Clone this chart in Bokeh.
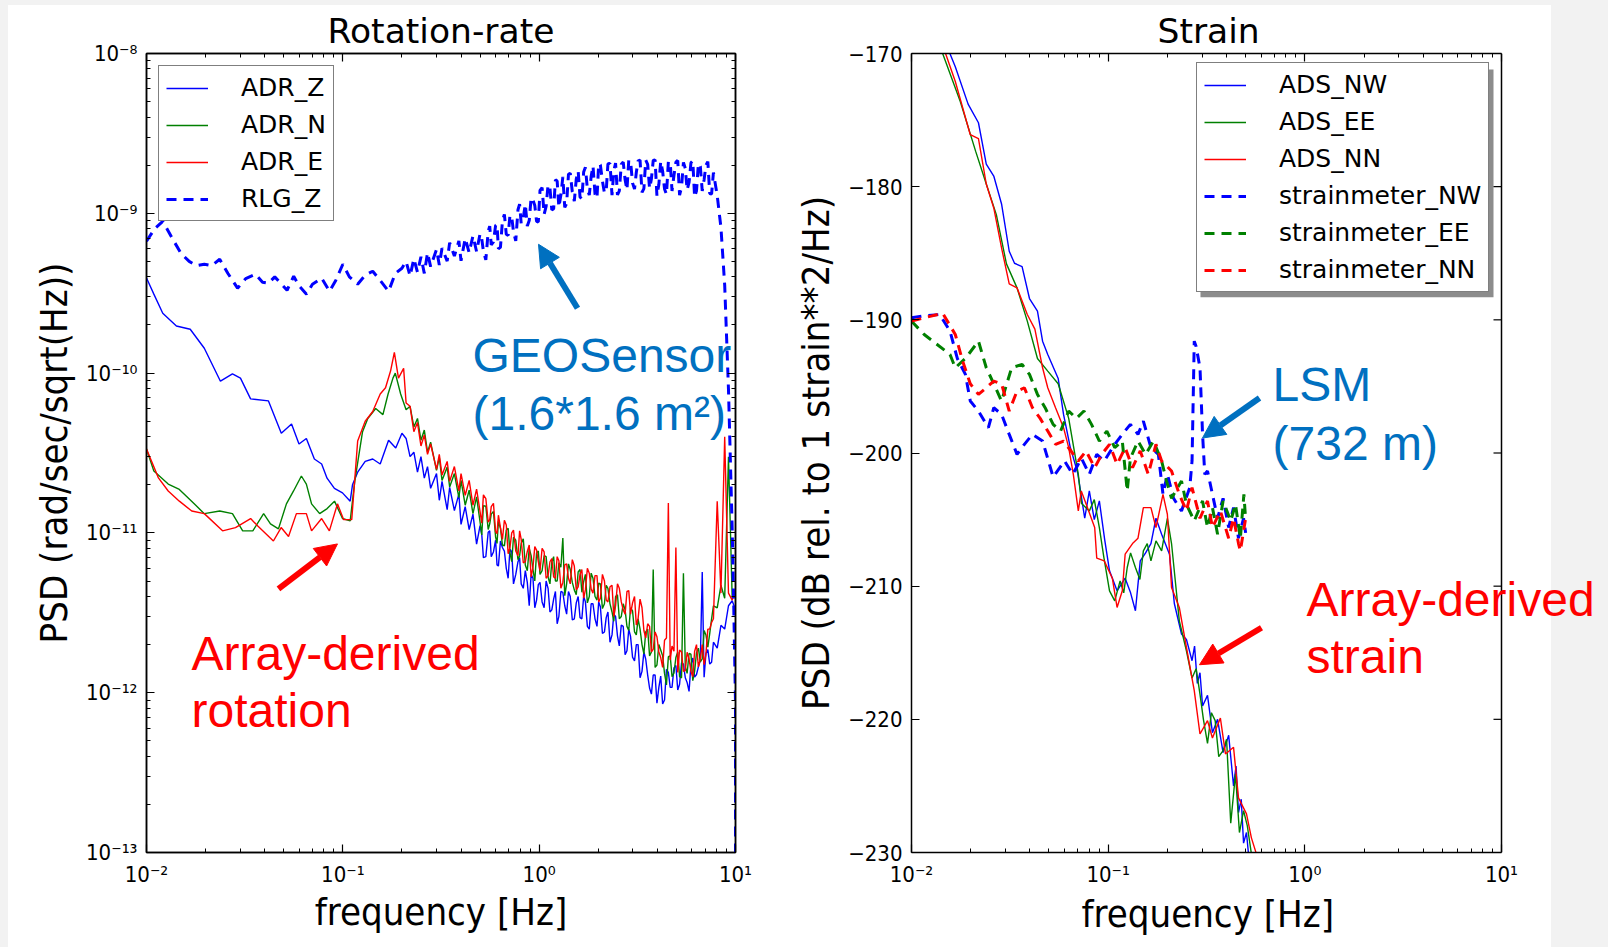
from bokeh.plotting import figure
from bokeh.models import (Range1d, LogAxis, FixedTicker, CustomJSTickFormatter,
                          Label, Arrow, NormalHead, Spacer, BoxAnnotation, Span, Title)
from bokeh.layouts import row, column
from bokeh.embed import file_html
from bokeh.resources import INLINE

# =====================================================================
# Left panel: rotation-rate PSD, values given in 1e-12 rad/sec/sqrt(Hz)
# =====================================================================
PICO = 1e-12

F_HI = [0.21, 0.22, 0.23, 0.24, 0.25, 0.26, 0.27, 0.28, 0.30, 0.31,
        0.32, 0.34, 0.35, 0.37, 0.39, 0.40, 0.42, 0.44, 0.46, 0.48,
        0.50, 0.52, 0.55, 0.57, 0.60, 0.62, 0.65, 0.68, 0.71, 0.74,
        0.78, 0.81, 0.85, 0.89, 0.93, 0.97, 1.01, 1.06, 1.11, 1.16,
        1.21, 1.26, 1.32, 1.38, 1.44, 1.51, 1.58, 1.65, 1.72, 1.80,
        1.88, 1.97, 2.05, 2.15, 2.24, 2.35, 2.45, 2.56, 2.68, 2.80,
        2.92, 3.06, 3.19, 3.34, 3.49, 3.65, 3.81, 3.98, 4.16, 4.35,
        4.55, 4.75, 4.97, 5.19, 5.43, 5.67, 5.93, 6.19, 6.47, 6.77,
        7.07, 7.39, 7.72, 8.07, 8.43, 8.81, 9.21, 9.62, 10.0]
F_MID = [0.51, 0.535, 0.56, 0.585, 0.61, 0.635, 0.665, 0.695, 0.725, 0.76,
         0.795, 0.83, 0.87, 0.91, 0.95, 0.99, 1.035, 1.085, 1.135, 1.185,
         1.235, 1.29, 1.35, 1.41, 1.475, 1.545, 1.615, 1.685, 1.76, 1.84,
         1.925, 2.01, 2.10, 2.195, 2.295, 2.40, 2.505, 2.62, 2.74, 2.86,
         2.99, 3.125, 3.265, 3.415, 3.57, 3.73, 3.895, 4.07, 4.255, 4.45,
         4.65, 4.86, 5.08, 5.31, 5.55, 5.80, 6.06, 6.33, 6.62, 6.92,
         7.23, 7.555]

ADR_Z_F_LO = [0.0100, 0.0109, 0.0121, 0.0142, 0.0167, 0.0197, 0.0238, 0.0274, 0.0301, 0.0339,
              0.0418, 0.0486, 0.0548, 0.0598, 0.0652, 0.0716, 0.0780, 0.0831, 0.0906, 0.0996,
              0.109, 0.112, 0.119, 0.130, 0.142, 0.155, 0.171, 0.186, 0.200]
ADR_Z_LO = [394, 312, 237, 197, 188, 143, 89, 99, 93, 69,
            67, 42, 48, 36, 39, 29, 27, 22, 19, 17.8,
            15.8, 20, 24, 28, 29, 27, 38, 34, 42]
ADR_Z_HI = [39, 30, 32, 24, 30, 22, 26, 19, 23.5, 16,
            21, 14, 19.3, 13.8, 17.5, 11.3, 14.6, 10.5, 13.1, 8.5,
            11.1, 7.0, 10.1, 7.1, 9.0, 6.2, 8.1, 6.0, 7.9, 4.8,
            6.6, 4.8, 5.8, 3.5, 5.2, 3.8, 4.9, 3.4, 4.5, 3.3,
            4.3, 3.0, 4.25, 3.1, 4.0, 2.9, 4.0, 2.9, 3.7, 2.5,
            3.6, 2.6, 3.45, 2.4, 3.2, 2.3, 3.0, 1.96, 2.6, 1.83,
            2.25, 1.58, 2.0, 1.36, 1.62, 1.07, 1.29, 0.86, 1.27, 0.9,
            1.34, 1.08, 1.48, 1.13, 1.51, 1.16, 1.5, 1.25, 1.45, 5.7,
            1.76, 1.51, 2.07, 1.9, 2.64, 2.5, 3.5, 3.76, 3.3]
ADR_Z_MID = [9.8, 7.1, 10.3, 7.6, 6.3, 8.9, 7.7, 5.2, 7.6, 5.5,
             7.0, 4.5, 4.9, 5.5, 3.4, 4.75, 3.7, 5.0, 3.2, 3.85,
             2.7, 4.3, 3.5, 4.3, 2.85, 3.65, 2.95, 4.0, 2.6, 3.6,
             2.9, 3.7, 2.35, 2.95, 2.07, 3.1, 2.27, 2.65, 1.73, 2.5,
             1.67, 2.0, 1.24, 1.8, 1.29, 0.98, 1.29, 1.08, 0.85, 1.4,
             1.08, 1.43, 1.04, 1.54, 1.24, 1.02, 1.65, 1.3, 1.59, 1.25,
             1.86, 1.55]

ADR_N_F_LO = [0.0100, 0.0109, 0.0129, 0.0147, 0.0175, 0.0197, 0.0236, 0.0274, 0.0309, 0.0348,
              0.0395, 0.0428, 0.0470, 0.0516, 0.0561, 0.0615, 0.0652, 0.0693, 0.0762, 0.0832,
              0.0907, 0.0996, 0.109, 0.115, 0.126, 0.134, 0.147, 0.160, 0.170, 0.180,
              0.185, 0.197]
ADR_N_LO = [33.5, 24.4, 20.2, 18.7, 15.2, 13.2, 13.7, 13.2, 10.3, 10.3,
            13.2, 11.4, 10.6, 15.2, 18.3, 22.7, 20.2, 15.2, 13.2, 14.2,
            15.8, 12.3, 11.9, 21, 43, 52, 60, 55, 74, 93,
            100, 74]
ADR_N_HI = [59, 62, 46, 52, 38, 44, 32, 37, 24.6, 29.7,
            21.3, 25.8, 19.4, 23.5, 16.6, 21.3, 14.9, 18.5, 13.2, 16.8,
            11.7, 14.8, 10.5, 13.1, 9.4, 11.8, 8.4, 10.4, 7.5, 9.4,
            6.8, 8.6, 6.3, 8.0, 5.9, 7.5, 5.5, 7.2, 5.3, 6.6,
            5.0, 6.5, 9.3, 4.8, 5.9, 4.4, 5.7, 4.25, 5.5, 4.0,
            5.2, 3.8, 4.8, 3.6, 4.5, 3.2, 4.0, 2.9, 3.6, 2.6,
            3.4, 2.4, 2.9, 2.0, 2.4, 1.7, 5.9, 1.49, 1.85, 1.32,
            1.68, 1.26, 1.66, 1.26, 5.6, 1.32, 1.74, 1.36, 1.9, 1.63,
            2.3, 2.34, 3.5, 3.4, 4.7, 3.9, 30, 3.9, 4.4]
ADR_N_MID = [9.7, 14.7, 11.4, 13.6, 8.6, 10.7, 8.3, 10.7, 6.6, 9.0,
             7.2, 9.2, 5.8, 7.2, 5.0, 7.7, 5.8, 7.1, 4.8, 7.1,
             5.0, 6.1, 4.05, 6.4, 4.9, 4.1, 5.9, 4.95, 3.65, 5.6,
             4.0, 4.85, 3.36, 4.7, 3.6, 2.8, 4.1, 3.0, 3.3, 2.45,
             3.25, 2.3, 2.5, 1.75, 2.5, 1.8, 1.44, 2.0, 1.7, 1.12,
             1.7, 1.33, 1.8, 1.24, 1.45, 1.76, 1.19, 1.78, 1.56, 2.45,
             1.93, 2.9]

ADR_E_F_LO = [0.0100, 0.0115, 0.0129, 0.0147, 0.0170, 0.0197, 0.0244, 0.0284, 0.0339, 0.0370,
              0.0443, 0.0485, 0.0529, 0.0580, 0.0652, 0.0693, 0.0780, 0.0854, 0.0939, 0.101,
              0.111, 0.119, 0.130, 0.142, 0.155, 0.165, 0.175, 0.183, 0.192, 0.204]
ADR_E_LO = [33.5, 22.1, 18.3, 15.8, 13.7, 13.2, 10.3, 10.8, 12.3, 11.0,
            8.9, 10.8, 9.5, 13.2, 13.2, 10.3, 12.3, 10.3, 15.2, 12.1,
            12.1, 37.6, 50, 57.5, 74, 81, 103, 135, 93, 107]
ADR_E_HI = [65, 62, 43, 49, 35, 41, 31, 36, 25, 31,
            23, 28, 21, 26, 18.3, 23.5, 17.2, 21.3, 14.9, 18.8,
            13.6, 17.3, 11.7, 14.6, 10.2, 12.9, 9.1, 11.2, 8.1, 10.4,
            7.2, 9.1, 6.6, 8.4, 6.1, 7.8, 5.8, 7.6, 5.4, 6.9,
            5.2, 6.7, 4.9, 6.4, 4.8, 6.2, 4.6, 5.9, 4.4, 5.6,
            4.2, 5.4, 3.9, 5.0, 3.7, 4.7, 3.5, 4.5, 3.3, 4.3,
            3.1, 4.0, 2.9, 3.4, 2.2, 2.6, 1.87, 2.24, 1.66, 2.13,
            15.4, 1.96, 8.1, 1.85, 1.36, 1.79, 1.36, 1.81, 1.45, 2.0,
            1.75, 2.5, 2.9, 15.8, 4.2, 40, 4.2, 3.8, 4.4]
ADR_E_MID = [11.5, 16.4, 12.1, 15.3, 9.9, 10.8, 12.0, 7.4, 10.0, 7.7,
             10.3, 6.5, 7.65, 5.3, 8.2, 6.6, 8.0, 5.2, 6.6, 5.3,
             7.1, 4.5, 6.3, 5.2, 6.8, 4.4, 5.5, 3.9, 6.0, 4.45,
             5.4, 3.7, 5.5, 3.8, 4.6, 3.0, 4.8, 3.7, 3.1, 4.35,
             3.65, 2.65, 3.85, 2.45, 2.7, 1.8, 2.4, 1.8, 1.44, 2.2,
             1.6, 1.82, 1.34, 1.8, 1.38, 1.63, 1.26, 2.0, 1.63, 1.5,
             2.5, 2.75]

RLG_Z_F_LO = [0.0100, 0.0110, 0.0121, 0.0135, 0.0150, 0.0165, 0.0180, 0.0197, 0.0215, 0.0236,
              0.0260, 0.0291, 0.0320, 0.0359, 0.0390, 0.0418, 0.0450, 0.0487, 0.0520, 0.0562,
              0.0600, 0.0653, 0.0700, 0.0780, 0.0855, 0.0920, 0.100, 0.108, 0.119, 0.130,
              0.142, 0.155, 0.171, 0.185, 0.200]
RLG_Z_LO = [668, 800, 891, 700, 560, 500, 470, 480, 470, 516,
            420, 340, 390, 416, 370, 365, 400, 360, 330, 404,
            350, 312, 360, 393, 325, 380, 480, 400, 360, 410,
            434, 380, 325, 420, 453]
RLG_Z_HI = [500, 405, 520, 428, 534, 421, 566, 464, 594, 475,
            605, 502, 655, 540, 671, 504, 697, 567, 722, 576,
            745, 578, 770, 634, 840, 600, 896, 739, 974, 765,
            1053, 862, 1142, 901, 1210, 890, 1390, 985, 1510, 1050,
            1620, 1090, 1690, 1150, 1780, 1190, 1840, 1230, 1940, 1300,
            1980, 1240, 2010, 1340, 2040, 1300, 2060, 1380, 2090, 1400,
            2120, 1420, 2130, 1350, 2150, 1430, 2140, 1280, 2120, 1420,
            2100, 1380, 2090, 1300, 2080, 1400, 2070, 1260, 2050, 1380,
            2000, 1330, 1800, 1290, 815, 355, 79, 10.6]
RLG_Z_MID = [692, 511, 831, 662, 851, 612, 984, 727, 947, 672,
             1142, 940, 832, 1253, 1120, 882, 1446, 1104, 1436, 1067,
             1593, 1302, 1088, 1752, 1364, 1638, 1264, 1814, 1419, 1703,
             1318, 2046, 1595, 1380, 2047, 1850, 1302, 2029, 1620, 2150,
             1546, 1804, 2150, 1429, 2025, 1641, 2160, 1513, 1835, 1314,
             2093, 1729, 2140, 1456, 1911, 1561, 2130, 1382, 1964, 1624,
             2105, 1320]
RLG_Z_F_TAIL = [9.80, 10.0, 10.0]
RLG_Z_TAIL = [3.4, 0.87, 0.05]

# =====================================================================
# Right panel: strain PSD in dB rel. to 1 strain**2/Hz
# =====================================================================
ADS_NW_F = [0.0150, 0.0167, 0.0194, 0.0219, 0.0240, 0.0262, 0.0287, 0.0314, 0.0334, 0.0365,
            0.0398, 0.0437, 0.0464, 0.0493, 0.0557, 0.0593, 0.0640, 0.0700, 0.0760, 0.0802,
            0.0850, 0.0902, 0.0960, 0.1016, 0.111, 0.122, 0.130, 0.1376, 0.1456, 0.155,
            0.165, 0.175, 0.187, 0.205, 0.217, 0.236, 0.250, 0.267, 0.275, 0.284,
            0.293, 0.302, 0.320, 0.339, 0.360, 0.384, 0.410, 0.434, 0.447, 0.460,
            0.475, 0.488, 0.505, 0.520]
ADS_NW = [-169.3, -171.0, -173.8, -175.2, -178.3, -179.2, -181.3, -184.85, -185.75, -186.0,
          -188.4, -189.35, -191.6, -192.6, -194.4, -197.1, -199.5, -201.5, -204.9, -202.85,
          -205.0, -203.6, -206.5, -208.85, -210.35, -209.4, -210.5, -211.85, -208.1, -207.5,
          -206.8, -204.9, -206.1, -207.6, -211.3, -213.6, -214.0, -215.6, -214.5, -217.3,
          -216.5, -219.0, -218.2, -221.0, -220.0, -222.5, -221.2, -225.0, -223.5, -227.0,
          -226.0, -229.3, -228.5, -230.5]

ADS_EE_F = [0.0144, 0.0177, 0.0212, 0.0240, 0.0270, 0.0304, 0.0344, 0.0388, 0.0437, 0.0493,
            0.0557, 0.0630, 0.0705, 0.0732, 0.0802, 0.0850, 0.0902, 0.0950, 0.1016, 0.108,
            0.115, 0.120, 0.125, 0.130, 0.1376, 0.145, 0.151, 0.158, 0.165, 0.175,
            0.187, 0.200, 0.210, 0.230, 0.250, 0.267, 0.280, 0.293, 0.305, 0.320,
            0.335, 0.350, 0.365, 0.384, 0.400, 0.420, 0.444, 0.465, 0.488, 0.510,
            0.535]
ADS_EE = [-170.0, -173.6, -177.35, -179.8, -182.1, -185.8, -187.6, -190.1, -192.9, -193.85,
          -194.8, -197.4, -201.6, -203.8, -204.35, -203.5, -205.6, -207.8, -210.35, -211.1,
          -209.6, -210.5, -208.6, -207.5, -208.6, -209.5, -207.35, -206.8, -208.1, -206.6,
          -207.35, -204.9, -206.8, -212.6, -214.85, -216.9, -216.2, -218.1, -220.0, -221.8,
          -219.5, -220.1, -222.8, -222.35, -221.5, -227.8, -224.1, -228.5, -226.85, -228.0,
          -230.1]

ADS_NN_F = [0.0149, 0.0167, 0.0199, 0.0219, 0.0240, 0.0262, 0.0287, 0.0314, 0.0344, 0.0388,
            0.0424, 0.0464, 0.0493, 0.0540, 0.0593, 0.0630, 0.0665, 0.0705, 0.0730, 0.0780,
            0.0854, 0.0875, 0.0955, 0.105, 0.111, 0.118, 0.122, 0.133, 0.1418, 0.151,
            0.165, 0.175, 0.190, 0.200, 0.210, 0.230, 0.250, 0.274, 0.293, 0.320,
            0.339, 0.372, 0.395, 0.434, 0.460, 0.505, 0.535, 0.567]
ADS_NN = [-170.0, -172.1, -176.1, -176.4, -179.8, -181.6, -184.6, -187.3, -187.6, -189.6,
          -190.7, -193.6, -195.1, -196.6, -198.1, -199.6, -201.6, -204.35, -202.85, -204.0,
          -205.6, -207.9, -208.1, -209.4, -211.6, -210.35, -207.6, -206.8, -206.4, -204.1,
          -204.1, -205.6, -203.1, -204.6, -210.1, -211.6, -214.6, -217.85, -221.1, -220.1,
          -221.4, -219.9, -222.6, -222.1, -225.9, -227.1, -228.9, -230.1]

SM_NW_F = [0.0100, 0.0116, 0.0139, 0.0157, 0.0171, 0.0188, 0.0199, 0.0219, 0.0246, 0.0262,
           0.0287, 0.0314, 0.0344, 0.0375, 0.0412, 0.0464, 0.0525, 0.0600, 0.0660, 0.0732,
           0.0802, 0.0875, 0.0955, 0.108, 0.118, 0.1297, 0.1418, 0.151, 0.165, 0.180,
           0.190, 0.200, 0.215, 0.236, 0.260, 0.267, 0.274, 0.280, 0.293, 0.302,
           0.310, 0.320, 0.339, 0.360, 0.384, 0.410, 0.434, 0.460, 0.488, 0.500]
SM_NW = [-189.85, -189.7, -189.6, -190.85, -192.9, -194.1, -196.1, -196.85, -198.1, -196.6,
         -197.1, -198.6, -200.1, -199.35, -198.6, -199.1, -201.8, -200.6, -201.6, -200.4,
         -201.6, -200.1, -200.6, -199.35, -198.6, -197.85, -198.6, -197.6, -199.6, -200.1,
         -203.1, -201.6, -203.4, -204.35, -202.6, -200.6, -191.6, -192.0, -193.6, -198.6,
         -201.6, -201.35, -203.1, -204.9, -203.4, -205.6, -204.1, -206.4, -204.9, -206.0]

SM_EE_F = [0.0100, 0.0116, 0.0135, 0.0157, 0.0167, 0.0188, 0.0219, 0.0240, 0.0262, 0.0287,
           0.0323, 0.0365, 0.0398, 0.0437, 0.0478, 0.0525, 0.0573, 0.0630, 0.0690, 0.0753,
           0.0823, 0.0902, 0.0985, 0.108, 0.118, 0.125, 0.1297, 0.1418, 0.155, 0.170,
           0.187, 0.198, 0.210, 0.236, 0.250, 0.274, 0.302, 0.320, 0.339, 0.360,
           0.384, 0.420, 0.444, 0.470, 0.490, 0.500]
SM_EE = [-190.1, -191.1, -191.85, -192.6, -193.6, -192.9, -191.6, -193.6, -194.8, -196.1,
         -193.6, -193.35, -194.1, -195.6, -196.6, -197.85, -198.35, -196.85, -197.4, -196.85,
         -197.85, -199.1, -198.35, -199.6, -199.1, -202.85, -200.4, -199.1, -200.1, -199.1,
         -200.6, -202.1, -203.4, -202.1, -203.85, -205.1, -203.6, -205.6, -204.1, -206.1,
         -203.6, -205.1, -203.85, -206.4, -203.1, -205.0]

SM_NN_F = [0.0100, 0.0116, 0.0144, 0.0167, 0.0182, 0.0199, 0.0219, 0.0240, 0.0262, 0.0287,
           0.0314, 0.0344, 0.0375, 0.0412, 0.0451, 0.0493, 0.0540, 0.0593, 0.0647, 0.0705,
           0.0772, 0.0854, 0.0928, 0.1016, 0.111, 0.122, 0.133, 0.1456, 0.160, 0.175,
           0.187, 0.210, 0.230, 0.250, 0.267, 0.293, 0.320, 0.339, 0.372, 0.410,
           0.434, 0.460, 0.470, 0.500]
SM_NN = [-190.1, -189.85, -189.5, -191.1, -193.1, -194.8, -195.6, -195.1, -194.6, -194.8,
         -196.85, -195.35, -195.1, -196.6, -197.4, -198.35, -199.35, -199.1, -199.85, -200.6,
         -199.85, -201.1, -200.1, -199.35, -200.85, -199.6, -201.1, -199.85, -201.6, -199.35,
         -200.6, -201.35, -203.1, -204.35, -202.6, -204.9, -203.6, -205.6, -204.35, -206.4,
         -204.9, -206.8, -207.35, -204.9]

# axis limits / ticks
X_MIN, X_MAX = 0.01, 10.0
X_DECADES = (-2, 1)
Y_DECADES_LEFT = (-13, -8)
Y_MIN_RIGHT, Y_MAX_RIGHT = -230, -170
Y_TICKS_RIGHT = [-230, -220, -210, -200, -190, -180, -170]

# annotation anchors (data coordinates)
GEO_LINE1 = (0.4576, 1.296e-10)
GEO_LINE2 = (0.4576, 5.62e-11)
GEO_ARROW = (1.568, 2.548e-10, 0.9923, 6.4e-10)
ROT_LINE1 = (0.01695, 1.754e-12)
ROT_LINE2 = (0.01695, 7.72e-13)
ROT_ARROW = (0.047, 4.47e-12, 0.0939, 8.53e-12)
LSM_LINE1 = (0.6849, -194.83)
LSM_LINE2 = (0.6849, -199.25)
LSM_ARROW = (0.588, -195.875, 0.3017, -198.875)
STR_LINE1 = (1.0196, -211.03)
STR_LINE2 = (1.0196, -215.3)
STR_ARROW = (0.602, -213.125, 0.2913, -215.9)
LEGEND2_SHADOW = (0.2947, 9.106, -171.2, -188.3)   # left, right, top, bottom

# ---------------------------------------------------------------------
BLUE, GREEN, RED = "#0000ff", "#008000", "#ff0000"
ANN_BLUE = "#0070c0"
TICK_FONT = "DejaVu Sans Condensed, DejaVu Sans"
LABEL_FONT = "DejaVu Sans Condensed, DejaVu Sans"
TEXT_FONT = "DejaVu Sans"
ANN_FONT = "Liberation Sans"
BG = "#f2f2f2"

# right panel geometry: axes box 590 px for 3 decades; the drawing area runs on to the
# page edge so the "Array-derived" note can overhang the axes as in the original
R_AXES_PX = 590
R_AREA_PX = 697
R_PX_PER_DECADE = R_AXES_PX / 3.0
R_VIEW_MAX = X_MIN * 10 ** (R_AREA_PX / R_PX_PER_DECADE)
R_TICK_X0 = X_MAX * 10 ** (-8 / R_PX_PER_DECADE)

LOG_FMT_CODE = """
const e = Math.round(Math.log10(tick));
const m = {'-':'\u207b','0':'\u2070','1':'\u00b9','2':'\u00b2','3':'\u00b3','4':'\u2074',
           '5':'\u2075','6':'\u2076','7':'\u2077','8':'\u2078','9':'\u2079'};
let s = '';
for (const c of String(e)) { s += m[c]; }
return '10' + s;
"""
LIN_FMT_CODE = "return (tick < 0 ? '\u2212' : '') + Math.abs(tick).toFixed(0);"


def merge_sorted(f_a, v_a, f_b, v_b):
    pts = sorted(zip(list(f_a) + list(f_b), list(v_a) + list(v_b)))
    return [p[0] for p in pts], [p[1] for p in pts]


def log_ticker(lo, hi):
    majors = [10.0 ** e for e in range(lo, hi + 1)]
    minors = [m * 10.0 ** e for e in range(lo, hi) for m in range(2, 10)]
    return FixedTicker(ticks=majors, minor_ticks=minors)


def style_axis(ax, show_labels, minor=True, label_standoff=7):
    ax.axis_line_color = "black"
    ax.axis_line_width = 1.5
    ax.major_tick_line_color = "black"
    ax.major_tick_line_width = 1.2
    ax.major_tick_in = 8
    ax.major_tick_out = 0
    if minor:
        ax.minor_tick_line_color = "black"
        ax.minor_tick_line_width = 1
        ax.minor_tick_in = 4
        ax.minor_tick_out = 0
    else:
        ax.minor_tick_line_color = None
    ax.major_label_text_font = TICK_FONT
    ax.major_label_text_font_size = "22px"
    ax.major_label_text_color = "black"
    ax.major_label_standoff = 9
    ax.axis_label_text_font = LABEL_FONT
    ax.axis_label_text_font_size = "38px"
    ax.axis_label_text_font_style = "normal"
    ax.axis_label_text_color = "black"
    ax.axis_label_standoff = label_standoff
    if not show_labels:
        ax.formatter = CustomJSTickFormatter(code="return '';")
        ax.major_label_standoff = 0


def base_figure(width, title, x_range, y_range, y_type, mb_left, mb_right):
    p = figure(width=width, height=942, x_axis_type="log", y_axis_type=y_type,
               x_range=x_range, y_range=y_range, title=title,
               output_backend="svg", toolbar_location=None,
               min_border_left=mb_left, min_border_right=mb_right,
               min_border_top=47, min_border_bottom=95)
    p.background_fill_color = "white"
    p.border_fill_color = "white"
    p.outline_line_color = "black"
    p.outline_line_width = 1.5
    p.xgrid.visible = False
    p.ygrid.visible = False
    p.title.text_font = TEXT_FONT
    p.title.text_font_size = "34.5px"
    p.title.text_font_style = "normal"
    p.title.text_color = "black"
    p.title.align = "center"
    p.title.standoff = 6
    return p


def style_legend(lg):
    lg.padding = 7
    lg.spacing = 8
    lg.glyph_width = 42
    lg.glyph_height = 24
    lg.label_height = 24
    lg.label_standoff = 33
    lg.label_text_font = TEXT_FONT
    lg.label_text_font_size = "25px"
    lg.label_text_color = "black"
    lg.border_line_color = "black"
    lg.border_line_width = 1.5
    lg.background_fill_color = "white"
    lg.background_fill_alpha = 1.0


def add_label(p, xy, text, color):
    p.add_layout(Label(x=xy[0], y=xy[1], text=text, text_font=ANN_FONT,
                       text_font_size="48px", text_color=color,
                       text_align="left", text_baseline="alphabetic"))


def add_arrow(p, coords, color):
    p.add_layout(Arrow(x_start=coords[0], y_start=coords[1], x_end=coords[2], y_end=coords[3],
                       line_color=color, line_width=6,
                       end=NormalHead(size=22, fill_color=color, line_color=color, line_width=1)))


# ============================ left figure ============================
p1 = base_figure(772, "Rotation-rate", Range1d(X_MIN, X_MAX), Range1d(1e-13, 1e-8), "log", 138, 45)
xt1 = log_ticker(*X_DECADES)
yt1 = log_ticker(*Y_DECADES_LEFT)
p1.below[0].ticker = xt1
p1.below[0].formatter = CustomJSTickFormatter(code=LOG_FMT_CODE)
p1.below[0].axis_label = "frequency [Hz]"
p1.left[0].ticker = yt1
p1.left[0].formatter = CustomJSTickFormatter(code=LOG_FMT_CODE)
p1.left[0].axis_label = "PSD (rad/sec/sqrt(Hz))"
style_axis(p1.below[0], True, label_standoff=0)
style_axis(p1.left[0], True)
top1 = LogAxis(ticker=xt1)
right1 = LogAxis(ticker=yt1)
style_axis(top1, False)
style_axis(right1, False)
p1.add_layout(top1, "above")
p1.add_layout(right1, "right")

z_f, z_v = merge_sorted(F_HI, ADR_Z_HI, F_MID, ADR_Z_MID)
n_f, n_v = merge_sorted(F_HI, ADR_N_HI, F_MID, ADR_N_MID)
e_f, e_v = merge_sorted(F_HI, ADR_E_HI, F_MID, ADR_E_MID)
r_f, r_v = merge_sorted(F_HI[:len(RLG_Z_HI)], RLG_Z_HI, F_MID, RLG_Z_MID)

p1.line(ADR_Z_F_LO + z_f, [v * PICO for v in ADR_Z_LO + z_v],
        line_color=BLUE, line_width=1.4, legend_label="ADR_Z")
p1.line(ADR_N_F_LO + n_f, [v * PICO for v in ADR_N_LO + n_v],
        line_color=GREEN, line_width=1.4, legend_label="ADR_N")
p1.line(ADR_E_F_LO + e_f, [v * PICO for v in ADR_E_LO + e_v],
        line_color=RED, line_width=1.4, legend_label="ADR_E")
p1.line(RLG_Z_F_LO + r_f + RLG_Z_F_TAIL,
        [v * PICO for v in RLG_Z_LO + r_v + RLG_Z_TAIL],
        line_color=BLUE, line_width=3, line_dash="10 7", legend_label="RLG_Z")
lg1 = p1.legend[0]
style_legend(lg1)
lg1.location = "top_left"
lg1.margin = 12

add_label(p1, GEO_LINE1, "GEOSensor", ANN_BLUE)
add_label(p1, GEO_LINE2, "(1.6*1.6 m\u00b2)", ANN_BLUE)
add_arrow(p1, GEO_ARROW, ANN_BLUE)
add_label(p1, ROT_LINE1, "Array-derived", RED)
add_label(p1, ROT_LINE2, "rotation", RED)
add_arrow(p1, ROT_ARROW, RED)

# ============================ right figure ===========================
p2 = base_figure(828, "Strain", Range1d(X_MIN, R_VIEW_MAX), Range1d(Y_MIN_RIGHT, Y_MAX_RIGHT),
                 "linear", 131, 0)
p2.border_fill_alpha = 0.0       # page background (white panel / grey margin) shows through
p2.background_fill_alpha = 0.0
p2.outline_line_color = None
p2.title.align = "left"
p2.title.offset = 246

xt2 = log_ticker(*X_DECADES)
yt2 = FixedTicker(ticks=Y_TICKS_RIGHT, minor_ticks=[])
p2.below[0].ticker = xt2
p2.below[0].formatter = CustomJSTickFormatter(code=LOG_FMT_CODE)
p2.below[0].bounds = (X_MIN, X_MAX)
p2.left[0].ticker = yt2
p2.left[0].formatter = CustomJSTickFormatter(code=LIN_FMT_CODE)
p2.left[0].axis_label = "PSD (dB rel. to 1 strain**2/Hz)"
style_axis(p2.below[0], True, label_standoff=0)
style_axis(p2.left[0], True, minor=False)
top2 = LogAxis(ticker=xt2, bounds=(X_MIN, X_MAX))
style_axis(top2, False)
p2.add_layout(top2, "above")
p2.add_layout(Title(text="frequency [Hz]", align="left", offset=170, standoff=0,
                    text_font=LABEL_FONT, text_font_size="38px",
                    text_font_style="normal", text_color="black"), "below")

# right-hand spine of the axes box with its inward ticks
p2.add_layout(Span(location=X_MAX, dimension="height", line_color="black", line_width=1.5))
p2.segment(x0=[R_TICK_X0] * len(Y_TICKS_RIGHT), y0=Y_TICKS_RIGHT,
           x1=[X_MAX] * len(Y_TICKS_RIGHT), y1=Y_TICKS_RIGHT,
           line_color="black", line_width=1.2)

p2.add_layout(BoxAnnotation(left=LEGEND2_SHADOW[0], right=LEGEND2_SHADOW[1],
                            top=LEGEND2_SHADOW[2], bottom=LEGEND2_SHADOW[3],
                            fill_color="#8c8c8c", fill_alpha=1.0, line_color=None,
                            level="underlay"))

p2.line(ADS_NW_F, ADS_NW, line_color=BLUE, line_width=1.4, legend_label="ADS_NW")
p2.line(ADS_EE_F, ADS_EE, line_color=GREEN, line_width=1.4, legend_label="ADS_EE")
p2.line(ADS_NN_F, ADS_NN, line_color=RED, line_width=1.4, legend_label="ADS_NN")
p2.line(SM_NW_F, SM_NW, line_color=BLUE, line_width=3, line_dash="10 7",
        legend_label="strainmeter_NW")
p2.line(SM_EE_F, SM_EE, line_color=GREEN, line_width=3, line_dash="10 7",
        legend_label="strainmeter_EE")
p2.line(SM_NN_F, SM_NN, line_color=RED, line_width=3, line_dash="10 7",
        legend_label="strainmeter_NN")
lg2 = p2.legend[0]
style_legend(lg2)
lg2.location = (285, 560)
lg2.margin = 0

add_label(p2, LSM_LINE1, "LSM", ANN_BLUE)
add_label(p2, LSM_LINE2, "(732 m)", ANN_BLUE)
add_arrow(p2, LSM_ARROW, ANN_BLUE)
add_label(p2, STR_LINE1, "Array-derived", RED)
add_label(p2, STR_LINE2, "strain", RED)
add_arrow(p2, STR_ARROW, RED)

# ============================ page layout ============================
top_pad = Spacer(width=1608, height=5, styles={"background-color": BG})
left_pad = Spacer(width=8, height=942, styles={"background-color": BG})
page_bg = "linear-gradient(to right, #ffffff 0px, #ffffff 1551px, %s 1551px, %s 100%%)" % (BG, BG)
layout = column(top_pad, row(left_pad, p1, p2), styles={"background": page_bg})

open("out.html", "w").write(file_html(layout, INLINE))
